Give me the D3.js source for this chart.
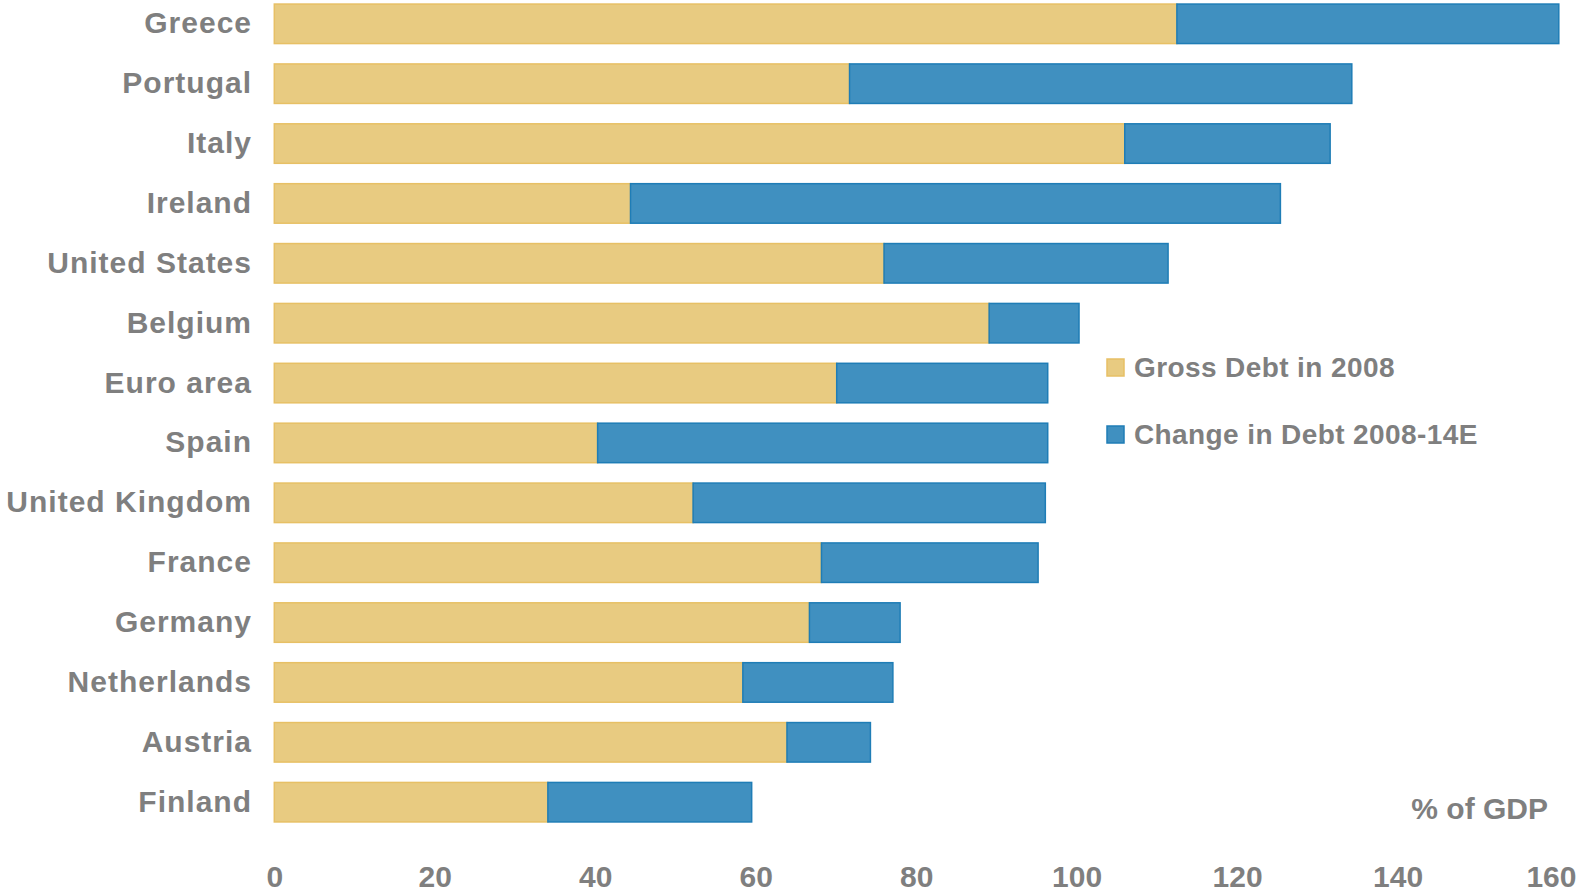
<!DOCTYPE html>
<html>
<head>
<meta charset="utf-8">
<script src="https://cdn.jsdelivr.net/npm/d3@7"></script>
<style>
  body { margin: 0; background: #fff; }
  text { font-family: "Liberation Sans", Arial, sans-serif; font-weight: bold; fill: #7f7f7f; }
</style>
</head>
<body>
<div id="wrapper"></div>
<script>
var countries = ["Greece", "Portugal", "Italy", "Ireland", "United States", "Belgium", "Euro area",
                 "Spain", "United Kingdom", "France", "Germany", "Netherlands", "Austria", "Finland"];
var debt2008 = [112.5, 71.7, 106.0, 44.4, 76.0, 89.1, 70.1, 40.3, 52.2, 68.2, 66.7, 58.4, 63.9, 34.1];
var change0814 = [47.6, 62.6, 25.6, 81.0, 35.4, 11.2, 26.3, 56.1, 43.9, 27.0, 11.3, 18.7, 10.4, 25.4];
var xTicks = [0, 20, 40, 60, 80, 100, 120, 140, 160];
var seriesNames = ["Gross Debt in 2008", "Change in Debt 2008-14E"];

var W = 1579, H = 893;
var svg = d3.select('#wrapper')
            .append('svg')
            .attr('width', W)
            .attr('height', H);

var x = d3.scaleLinear().domain([0, 160]).range([274.3, 1558]);
var y = d3.scaleBand().domain(countries).range([3.3, 822.7]).paddingInner(0.315).paddingOuter(0);

var fills = ["#e8cb81", "#4090c0"];
var strokes = ["#e7c065", "#1f7db6"];

var rows = countries.map(function(c, i) {
    return { name: c, a: debt2008[i], b: change0814[i] };
});

var g = svg.selectAll("g.row")
           .data(rows)
           .enter()
           .append("g")
           .attr("class", "row");

// gross debt 2008
g.append("rect")
 .attr("x", function(d) { return x(0); })
 .attr("y", function(d) { return y(d.name) + 0.75; })
 .attr("width", function(d) { return x(d.a) - x(0); })
 .attr("height", y.bandwidth() - 1.5)
 .style("fill", fills[0])
 .style("stroke", strokes[0])
 .style("stroke-width", 1.5);

// change 2008-14E
g.append("rect")
 .attr("x", function(d) { return x(d.a); })
 .attr("y", function(d) { return y(d.name) + 0.75; })
 .attr("width", function(d) { return x(d.a + d.b) - x(d.a); })
 .attr("height", y.bandwidth() - 1.5)
 .style("fill", fills[1])
 .style("stroke", strokes[1])
 .style("stroke-width", 1.5);

// country labels
g.append("text")
 .attr("x", 252)
 .attr("y", function(d) { return y(d.name) + y.bandwidth() / 2 + 9.5; })
 .attr("text-anchor", "end")
 .style("font-size", "30px")
 .style("letter-spacing", "1px")
 .text(function(d) { return d.name; });

// x axis
var axis = svg.append("g")
              .attr("transform", "translate(0,876)")
              .call(d3.axisBottom(x).tickValues(xTicks).tickSize(0).tickPadding(0).tickFormat(d3.format("d")));
axis.select(".domain").remove();
axis.selectAll("text")
    .attr("y", 0)
    .attr("dy", "0.36em")
    .style("font-size", "30px")
    .style("font-family", "'Liberation Sans', Arial, sans-serif")
    .style("fill", "#7f7f7f");
// keep the last label inside the page
axis.selectAll(".tick")
    .filter(function(d) { return d === 160; })
    .select("text")
    .attr("text-anchor", "end")
    .attr("x", 1576 - x(160));

// legend
var leg = svg.selectAll("g.legend")
             .data(seriesNames)
             .enter()
             .append("g")
             .attr("class", "legend")
             .attr("transform", function(d, i) { return "translate(1107," + (359 + i * 67) + ")"; });
leg.append("rect")
   .attr("width", 17)
   .attr("height", 17)
   .style("fill", function(d, i) { return fills[i]; })
   .style("stroke", function(d, i) { return strokes[i]; })
   .style("stroke-width", 1.5);
leg.append("text")
   .attr("x", 27)
   .attr("y", 18)
   .style("font-size", "28px")
   .style("letter-spacing", "0.4px")
   .text(function(d) { return d; });

svg.append("text")
   .attr("x", 1548)
   .attr("y", 819)
   .attr("text-anchor", "end")
   .style("font-size", "30px")
   .text("% of GDP");
</script>
</body>
</html>
